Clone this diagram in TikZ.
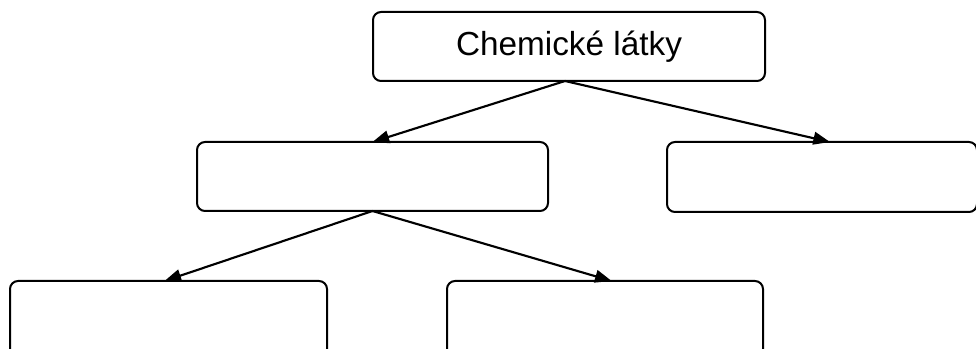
\documentclass[tikz,border=0pt]{standalone}
\usepackage{fontspec}
\setmainfont{Liberation Sans}
\usetikzlibrary{arrows.meta}
\begin{document}
\begin{tikzpicture}[x=0.75pt,y=-0.75pt,
  box/.style={draw=black,line width=1.5pt,rounded corners=6pt,fill=white,
    rectangle,inner sep=0pt,outer sep=0pt},
  link/.style={line width=1.6pt,-{Triangle[length=12.5pt,width=9.5pt]}}]
  \useasboundingbox (0,0) rectangle (976,349);
  \clip (0,0) rectangle (976,349);
  % tree of boxes
  \node[box,minimum width=392*0.75pt,minimum height=69*0.75pt] (root) at (569,46.5)
    {\raisebox{-2pt}{\fontsize{25pt}{30pt}\selectfont Chemické látky}};
  \node[box,minimum width=351*0.75pt,minimum height=69*0.75pt] (midL) at (372.5,176.5) {};
  \node[box,minimum width=310*0.75pt,minimum height=70*0.75pt] (midR) at (822,177) {};
  \node[box,minimum width=317*0.75pt,minimum height=76*0.75pt] (botL) at (168.5,319) {};
  \node[box,minimum width=316*0.75pt,minimum height=76*0.75pt] (botR) at (605,319) {};
  % connectors
  \draw[link] ([xshift=-3pt]root.south) -- (midL.north);
  \draw[link] ([xshift=-3pt]root.south) -- ([xshift=6pt]midR.north);
  \draw[link] (midL.south) -- ([xshift=-3pt]botL.north);
  \draw[link] (midL.south) -- ([xshift=5pt]botR.north);
\end{tikzpicture}
\end{document}
